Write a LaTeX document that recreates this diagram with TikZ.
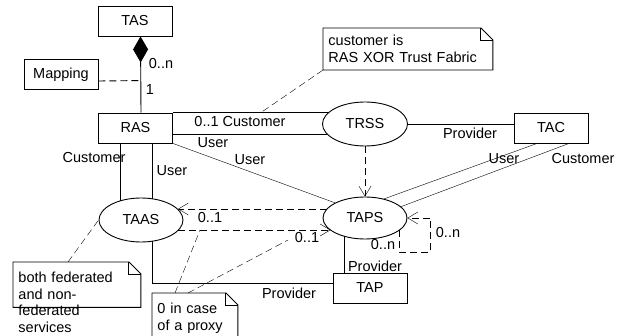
\documentclass[tikz,border=0pt]{standalone}
\usepackage{fontspec}
\setmainfont{Liberation Sans}
\usetikzlibrary{arrows.meta,calc,shapes.geometric}
\pgfdeclarelayer{bg}
\pgfsetlayers{bg,main}
\tikzset{
  cls/.style={draw, fill=white, minimum width=74pt, minimum height=30pt, inner sep=0pt},
  usecase/.style={draw, fill=white, ellipse, minimum width=84pt, minimum height=43pt, inner sep=0pt},
  lbl/.style={inner sep=1pt},
  dep/.style={dash pattern=on 7pt off 4pt, -{Straight Barb[length=10pt,width=12pt]}},
  notelink/.style={dash pattern=on 7pt off 4pt},
  notetext/.style={anchor=north west, align=left, inner xsep=5pt, inner ysep=7pt}
}
\newcommand{\umlnote}[1]{
  \draw (#1.south west) -- (#1.north west) -- ([xshift=-12pt]#1.north east)
    -- ([yshift=-12pt]#1.north east) -- (#1.south east) -- cycle;
  \draw ([xshift=-12pt]#1.north east) |- ([yshift=-12pt]#1.north east);
}

\begin{document}
\begin{tikzpicture}[x=1pt, y=-1pt, line width=0.9pt, font=\fontsize{14.5pt}{16.5pt}\selectfont]
  \useasboundingbox (0,0) rectangle (626,336);

  \node[cls] (tas) at (135,21) {TAS};
  \node[cls] (mapping) at (61,74.5) {Mapping};
  \node[cls] (ras) at (135.5,128) {RAS};
  \node[cls] (tac) at (551,128) {TAC};
  \node[cls] (tap) at (370,288) {TAP};
  \node[usecase, minimum width=85pt, minimum height=44pt] (trss) at (365,124) {TRSS};
  \node[usecase, minimum height=42pt] (taps) at (365,218) {TAPS};
  \node[usecase, minimum height=44pt] (taas) at (141,220) {TAAS};

  \node[notetext, text width=159pt] (custnote) at (323,28) {customer is\\RAS XOR Trust Fabric};
  \node[notetext, text width=117pt, text depth=14pt, inner ysep=10pt] (fednote) at (13,262) {both federated\\and non-\\federated\\services};
  \node[notetext, text width=75pt, text depth=14pt, inner ysep=10pt] (proxynote) at (152,293) {0 in case\\of a proxy};
  \umlnote{custnote}
  \umlnote{fednote}
  \umlnote{proxynote}

  \draw[-{Diamond[length=26pt,width=15pt]}] ($(ras.north)+(5.5,0)$) -- ($(tas.south)+(5.5,0)$);
  \coordinate (mapjoin) at ($(ras.north)+(5.5,-32)$);
  \draw[notelink] ($(mapping.east)+(0,6.5)$) -- (mapjoin);
  \node[lbl] (compn) at (161,64) {0..n};
  \node[lbl] (compone) at (150,90) {1};

  \begin{pgfonlayer}{bg}
    \coordinate (raslow) at ($(ras.east)+(0,6)$);
    \draw (ras.north east) -- (trss.center |- ras.north east);
    \draw (raslow) -- (trss.center |- raslow);
    \draw (trss.center) -- (trss.center -| tac.west);
    \draw ($(tac.south)+(-14,0)$) -- ($(taps.center)+(16,-18)$);
    \draw ($(tac.south)+(18,0)$) -- ($(taps.center)+(29,-8.7)$);
    \draw (ras.south east) -- (taps.north west);
    \draw ($(ras.south)+(-15.5,0)$) -- ($(taas.center)+(-21,0)$);
    \draw ($(ras.south)+(16.5,0)$) -- ($(taas.center)+(11,0)$);
    \draw ($(taas.center)+(11,0)$) |- ($(tap.west)+(0,-5)$);
    \draw ($(taps.center)+(-21,0)$) -- ($(tap.north)+(-26,0)$);
  \end{pgfonlayer}

  \draw[dep] (trss.south) -- (taps.north);
  \draw[dep] ($(taps.center)+(-38,-9)$) -- ($(taas.center)+(37,-11)$);
  \draw[dep] ($(taas.center)+(37.4,10)$) -- ($(taps.center)+(-34.5,12)$);
  \draw[dep] ($(taps.center)+(34,12)$) |- ($(taps.east)+(23,34)$) |- (taps.east);

  \coordinate (custjoin) at ($(ras.north east)+(88,0)$);
  \draw[notelink] (custnote.south west) -- (custjoin);
  \draw[notelink] ($(fednote.north west)+(55,0)$) -- (taas.west);
  \coordinate (proxyjoina) at (200,230);
  \coordinate (proxyjoinb) at (288,240);
  \draw[notelink] ($(proxynote.north west)+(23,0)$) -- (proxyjoina);
  \draw[notelink] ($(proxynote.north west)+(36,0)$) -- (proxyjoinb);

  \node[lbl] (rascust) at (240,122) {0..1 Customer};
  \node[lbl] (rasuser) at (213,143) {User};
  \node[lbl] (rastapsuser) at (250,160) {User};
  \node[lbl] (trssprov) at (470,133) {Provider};
  \node[lbl] (tacuser) at (504,159) {User};
  \node[lbl] (taccust) at (583,159) {Customer};
  \node[lbl] (taascust) at (94,158) {Customer};
  \node[lbl] (taasuser) at (172,171) {User};
  \node[lbl] (tapprov) at (289,293) {Provider};
  \node[lbl] (tapsprov) at (375,266) {Provider};
  \node[lbl] (taasmult) at (210,218) {0..1};
  \node[lbl] (tapsmult) at (307,238) {0..1};
  \node[lbl] (selfmulta) at (448,233) {0..n};
  \node[lbl] (selfmultb) at (383,245) {0..n};
\end{tikzpicture}
\end{document}
